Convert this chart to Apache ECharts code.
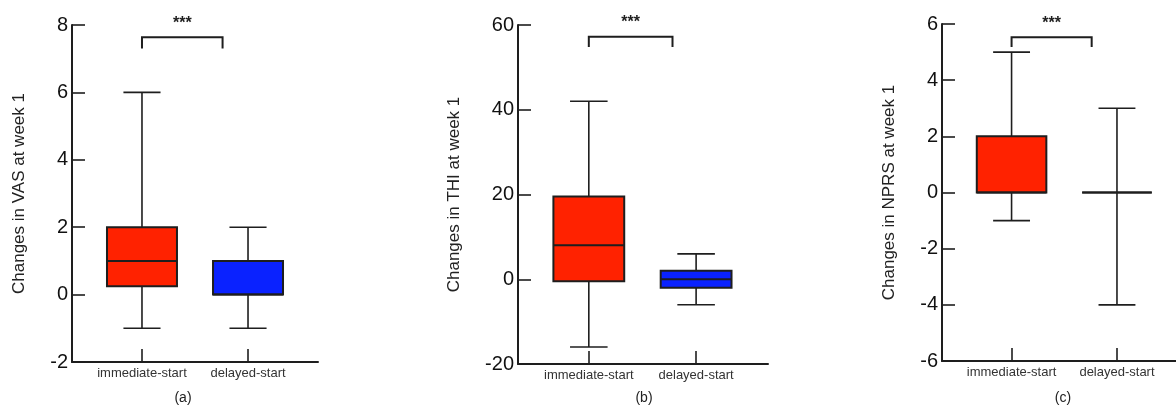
<!DOCTYPE html>
<html>
<head>
<meta charset="utf-8">
<script src="https://cdn.jsdelivr.net/npm/echarts@6/dist/echarts.min.js"></script>
<style>
  html, body { margin: 0; padding: 0; background: #fff; }
  #chart { width: 1176px; height: 408px; }
</style>
</head>
<body>
<div id="chart"></div>
<script>
// groups on the x axis
let categories = ['immediate-start', 'delayed-start'];

// [min, Q1, median, Q3, max] per group
let vasStats = [[-1, 0.25, 1, 2, 6], [-1, 0, 0, 1, 2]];
let thiStats = [[-16, -0.5, 8, 19.5, 42], [-6, -2, 0, 2, 6]];
let nprsStats = [[-1, 0, 0, 2, 5], [-4, 0, 0, 0, 3]];

// y axis [min, max, interval]
let vasTicks = [-2, 8, 2];
let thiTicks = [-20, 60, 20];
let nprsTicks = [-6, 6, 2];

// significance bracket [fromGroup, toGroup, top, legEnd]
let vasBracket = [0, 0.76, 7.64, 7.3];
let thiBracket = [0, 0.78, 57.2, 54.8];
let nprsBracket = [0, 0.76, 5.53, 5.18];

let yNames = ['Changes in VAS at week 1', 'Changes in THI at week 1', 'Changes in NPRS at week 1'];
let panelLabels = ['(a)', '(b)', '(c)'];

let fillColors = ['#ff2200', '#0a22ff'];
let ink = '#1e1e1e';
let font = 'Arial, "Liberation Sans", sans-serif';

let chart = echarts.init(document.getElementById('chart'));

let panels = [
  { stats: vasStats, ticks: vasTicks, bracket: vasBracket, grid: { left: 72, top: 25, width: 246, height: 337 }, xmax: 1.66, nameGap: 44, label: 183 },
  { stats: thiStats, ticks: thiTicks, bracket: thiBracket, grid: { left: 518, top: 25, width: 250, height: 339 }, xmax: 1.67, nameGap: 55, label: 644 },
  { stats: nprsStats, ticks: nprsTicks, bracket: nprsBracket, grid: { left: 942, top: 24, width: 234, height: 337 }, xmax: 1.56, nameGap: 44, label: 1063 }
];

function renderBox(params, api) {
  let x = api.value(0);
  let lo = api.coord([x, api.value(1)]);
  let q1 = api.coord([x, api.value(2)]);
  let med = api.coord([x, api.value(3)]);
  let q3 = api.coord([x, api.value(4)]);
  let hi = api.coord([x, api.value(5)]);
  let bw = api.size([0.66, 0])[0];
  let cw = api.size([0.35, 0])[0];
  let cx = lo[0];
  let wStyle = { stroke: ink, lineWidth: 1.6 };
  let bStyle = { stroke: ink, lineWidth: 2 };
  return {
    type: 'group',
    children: [
      { type: 'line', shape: { x1: cx, y1: lo[1], x2: cx, y2: q1[1] }, style: wStyle },
      { type: 'line', shape: { x1: cx, y1: q3[1], x2: cx, y2: hi[1] }, style: wStyle },
      { type: 'line', shape: { x1: cx - cw / 2, y1: lo[1], x2: cx + cw / 2, y2: lo[1] }, style: wStyle },
      { type: 'line', shape: { x1: cx - cw / 2, y1: hi[1], x2: cx + cw / 2, y2: hi[1] }, style: wStyle },
      { type: 'rect', shape: { x: cx - bw / 2, y: q3[1], width: bw, height: q1[1] - q3[1] },
        style: { fill: fillColors[params.dataIndex], stroke: ink, lineWidth: 2 } },
      { type: 'line', shape: { x1: cx - bw / 2, y1: med[1], x2: cx + bw / 2, y2: med[1] }, style: bStyle }
    ]
  };
}

function renderBracket(params, api) {
  let a = api.coord([api.value(0), api.value(2)]);
  let b = api.coord([api.value(1), api.value(2)]);
  let aLeg = api.coord([api.value(0), api.value(3)]);
  let bLeg = api.coord([api.value(1), api.value(3)]);
  return {
    type: 'group',
    children: [
      { type: 'polyline', shape: { points: [[aLeg[0], aLeg[1]], [a[0], a[1]], [b[0], b[1]], [bLeg[0], bLeg[1]]] },
        style: { stroke: ink, lineWidth: 2, fill: null } },
      { type: 'text', x: (a[0] + b[0]) / 2, y: a[1] - 14,
        style: { text: '***', fill: ink, font: 'bold 16px ' + font, align: 'center', verticalAlign: 'middle' } }
    ]
  };
}

let grids = [], xAxes = [], yAxes = [], series = [], graphics = [];
panels.forEach(function (p, i) {
  grids.push(p.grid);
  xAxes.push({
    gridIndex: i,
    type: 'value',
    min: -0.66,
    max: p.xmax,
    splitLine: { show: false },
    axisLine: { show: true, onZero: false, lineStyle: { color: ink, width: 2 } },
    axisTick: { show: true, inside: true, length: 13, customValues: [0, 1], lineStyle: { color: ink, width: 1.6 } },
    axisLabel: {
      show: true, customValues: [0, 1], margin: 5,
      fontSize: 13, color: '#333', fontFamily: font,
      formatter: function (v) { return categories[Math.round(v)]; }
    }
  });
  yAxes.push({
    gridIndex: i,
    type: 'value',
    min: p.ticks[0],
    max: p.ticks[1],
    interval: p.ticks[2],
    splitLine: { show: false },
    axisLine: { show: true, onZero: false, lineStyle: { color: ink, width: 2 } },
    axisTick: { show: true, inside: true, length: 13, lineStyle: { color: ink, width: 1.6 } },
    axisLabel: { fontSize: 20, color: '#111', fontFamily: font, margin: 4 },
    name: yNames[i],
    nameLocation: 'middle',
    nameRotate: 90,
    nameGap: p.nameGap,
    nameTextStyle: { fontSize: 17, color: '#222', fontFamily: font }
  });
  series.push({
    type: 'custom',
    xAxisIndex: i,
    yAxisIndex: i,
    clip: false,
    renderItem: renderBox,
    data: p.stats.map(function (s, k) { return [k].concat(s); })
  });
  series.push({
    type: 'custom',
    xAxisIndex: i,
    yAxisIndex: i,
    clip: false,
    renderItem: renderBracket,
    data: [p.bracket]
  });
  graphics.push({
    type: 'text', x: p.label, y: 398,
    style: { text: panelLabels[i], fill: '#222', font: '14px ' + font, align: 'center', verticalAlign: 'middle' }
  });
});

chart.setOption({
  animation: false,
  backgroundColor: '#fff',
  grid: grids,
  xAxis: xAxes,
  yAxis: yAxes,
  series: series,
  graphic: graphics
});
</script>
</body>
</html>
